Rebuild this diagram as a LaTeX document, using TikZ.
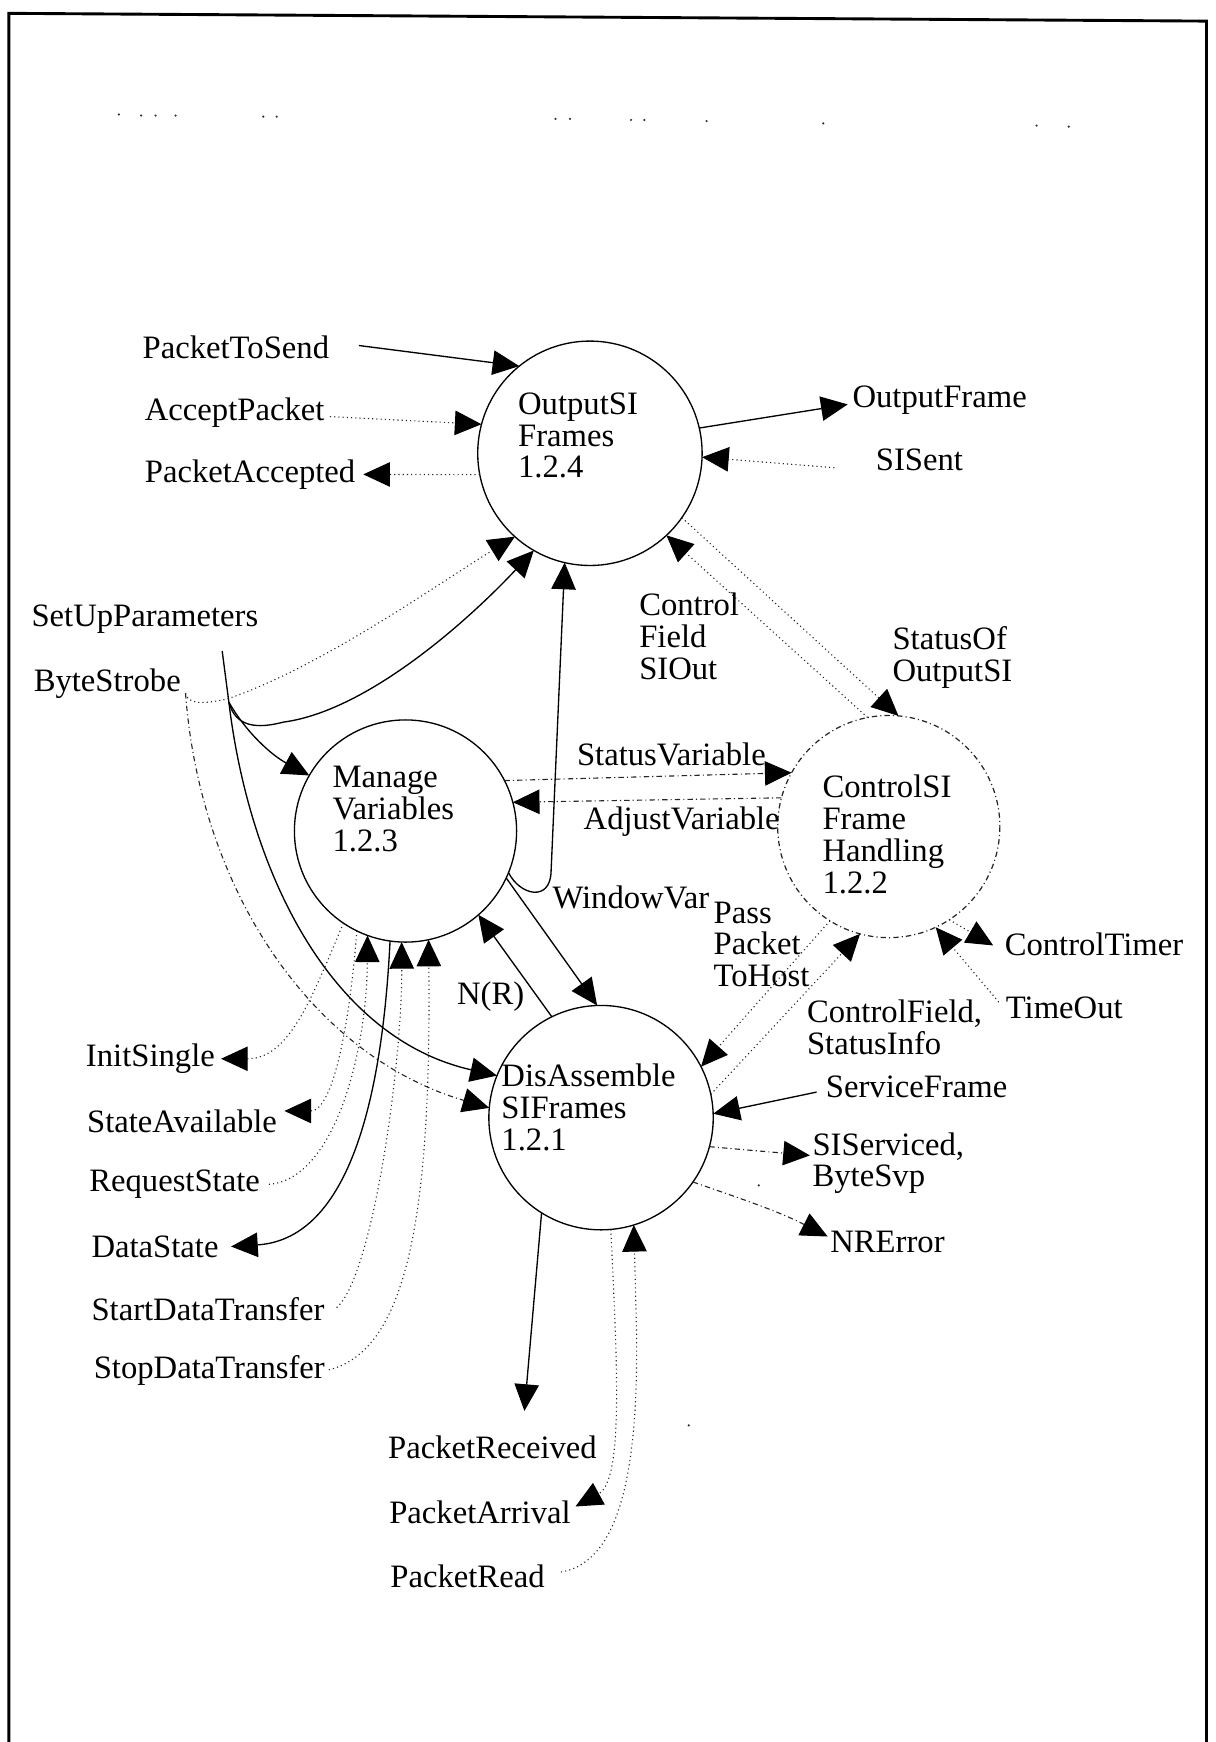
\documentclass[tikz,border=0pt]{standalone}
\usepackage{fontspec}
\setmainfont{Liberation Serif}
\usetikzlibrary{arrows.meta,calc}
\newcommand\lbfont{\fontsize{14.7pt}{14.3pt}\selectfont}
\begin{document}
\begin{tikzpicture}[x=0.5pt,y=-0.5pt,
  proc/.style={circle, draw, line width=0.6pt, inner sep=0pt, outer sep=0pt, minimum size=#1},
  lbl/.style={inner sep=0pt, anchor=west, align=left, font=\lbfont},
  tipx/.tip={Triangle[length=12pt,width=11pt,color=black]},
  sline/.style={line width=0.6pt},
  flow/.style={line width=0.6pt, -tipx},
  fdot/.style={line width=0.5pt, draw=black!85, dash pattern=on 0.5pt off 1.4pt},
  fdd/.style={line width=0.5pt, draw=black!85, dash pattern=on 2.4pt off 1.4pt on 0.5pt off 1.4pt},
  dflow/.style={fdot, -tipx},
  ddflow/.style={fdd, -tipx}]
\useasboundingbox (0,0) rectangle (1094,1568);

% page frame (open at the bottom)
\draw[line width=1.3pt] (8,1568) -- (8,12) -- (1086,19) -- (1086,1568);
% specks along the top
\foreach \p in {(107,103),(127,104),(140,104),(158,104),(237,105),(249,105),
  (500,107),(513,107),(568,108),(580,108),(636,109),(741,111),(933,113),(962,114),
  (620,1283),(683,1067)}
  \fill[black!80] \p circle[radius=1.1];

% processes
\node[proc=101pt] (A) at (531,408) {};
\node[proc=100pt] (B) at (365,748) {};
\node[proc=100pt, draw=none] (C) at (800,744) {};
\draw[fdd, line width=0.55pt] (C.center) circle[radius=100];
\node[proc=101pt] (D) at (541,1006) {};

\node[lbl] (At) at (466,392) {OutputSI\\Frames\\1.2.4};
\node[lbl] (Bt) at (299,728) {Manage\\Variables\\1.2.3};
\node[lbl] (Ct) at (740,751) {ControlSI\\Frame\\Handling\\1.2.2};
\node[lbl] (Dt) at (451,997) {DisAssemble\\SIFrames\\1.2.1};

% flow labels
\node[lbl] (pts) at (128,313) {PacketToSend};
\node[lbl] (acp) at (130,371) {AcceptPacket};
\node[lbl] (pac) at (130,427) {PacketAccepted};
\node[lbl] (ofr) at (767,360) {OutputFrame};
\node[lbl] (sis) at (788,414) {SISent};
\node[lbl] (cfs) at (575,573) {Control\\Field\\SIOut};
\node[lbl] (soo) at (803,592) {StatusOf\\OutputSI};
\node[lbl] (sup) at (28,557) {SetUpParameters};
\node[lbl] (bst) at (30,615) {ByteStrobe};
\node[lbl] (stv) at (519,679) {StatusVariable};
\node[lbl] (adv) at (525,740) {AdjustVariable};
\node[lbl] (wvr) at (497,808) {WindowVar};
\node[lbl] (ppt) at (642,850) {Pass\\Packet\\ToHost};
\node[lbl] (ctm) at (904,850) {ControlTimer};
\node[lbl] (tmo) at (905,907) {TimeOut};
\node[lbl] (cfi) at (726,925) {ControlField,\\StatusInfo};
\node[lbl] (nr) at (411,897) {N(R)};
\node[lbl] (svf) at (743,978) {ServiceFrame};
\node[lbl] (sisv) at (731,1047) {SIServiced,\\ByteSvp};
\node[lbl] (nre) at (747,1118) {NRError};
\node[lbl] (ins) at (77,953) {InitSingle};
\node[lbl] (sav) at (78,1009) {StateAvailable};
\node[lbl] (rqs) at (80,1066) {RequestState};
\node[lbl] (dst) at (82,1122) {DataState};
\node[lbl] (sdt) at (82,1178) {StartDataTransfer};
\node[lbl] (pdt) at (84,1234) {StopDataTransfer};
\node[lbl] (prc) at (349,1303) {PacketReceived};
\node[lbl] (par) at (350,1361) {PacketArrival};
\node[lbl] (prd) at (351,1419) {PacketRead};

% free ends of the flows
\coordinate (ptsE) at (323,311);
\coordinate (acpE) at (297,375);
\coordinate (pacE) at (327,427);
\coordinate (ofrE) at (763,364);
\coordinate (sisE) at (751,421);
\coordinate (su) at (200,586);
\coordinate (sj) at (206,632);
\coordinate (bs) at (167,624);
\coordinate (ctmE) at (894,851);
\coordinate (tmoE) at (899,902);
\coordinate (svfE) at (735,983);
\coordinate (sisvE) at (729,1040);
\coordinate (nreE) at (745,1113);
\coordinate (prcE) at (472,1270);
\coordinate (parE) at (518,1356);
\coordinate (prdE) at (505,1415);
\coordinate (insE) at (199,953);
\coordinate (savE) at (256,1000);
\coordinate (rqsE) at (242,1066);
\coordinate (dstE) at (208,1122);
\coordinate (sdtE) at (303,1177);
\coordinate (pdtE) at (296,1233);

% OutputSI Frames
\draw[flow] (ptsE) -- (A.129);
\draw[dflow] (acpE) -- (A.165);
\draw[dflow] (A.191) -- (pacE);
\draw[flow] (A.13) -- (ofrE);
\draw[dflow] (sisE) -- (A.-2);
\draw[dflow] (A.-35) -- (C.85);
\draw[dflow] (C.101) -- (A.-47);

% SetUpParameters and ByteStrobe
\draw[sline] (su) -- (sj);
\draw[flow] (sj) .. controls (212,655) and (232,656) .. (255,650)
  .. controls (330,640) and (420,560) .. (A.240);
\draw[flow] (sj) .. controls (222,660) and (245,680) .. (B.150);
\draw[flow] (sj) .. controls (225,790) and (300,935) .. (D.158);
\draw[dflow] (bs) .. controls (169,634) and (182,634) .. (205,629)
  .. controls (290,600) and (395,525) .. (A.228);
\draw[ddflow] (bs) .. controls (180,800) and (280,950) .. (D.175);

% Manage Variables
\draw[flow] (D.116) -- (B.-49);
\draw[flow] (B.-25) -- (D.92);
\draw[flow] (B.-22) .. controls (468,806) and (495,812) .. (496,785) -- (A.257);
\draw[ddflow] (B.27) -- (C.151);
\draw[ddflow] (C.165) -- (B.15);
\draw[dflow] (B.-124) .. controls (280,900) and (260,953) .. (insE);
\draw[dflow] (B.-116) .. controls (315,920) and (300,1000) .. (savE);
\draw[dflow] (rqsE) .. controls (300,1062) and (330,950) .. (B.-110);
\draw[flow] (B.-98) .. controls (345,970) and (320,1115) .. (dstE);
\draw[dflow] (sdtE) .. controls (335,1150) and (362,960) .. (B.-92);
\draw[dflow] (pdtE) .. controls (370,1215) and (388,1080) .. (B.-78);

% ControlSI Frame Handling
\draw[dflow] (C.-122) -- (D.27);
\draw[dflow] (D.12) -- (C.-105);
\draw[dflow] (C.-57) -- (ctmE);
\draw[dflow] (tmoE) -- (C.-65);

% DisAssemble SIFrames
\draw[flow] (svfE) -- (D.2);
\draw[ddflow] (D.-15) -- (sisvE);
\draw[ddflow] (D.-35) .. controls (670,1080) and (700,1090) .. (nreE);
\draw[flow] (D.-122) -- (prcE);
\draw[dflow] (D.-85) .. controls (555,1220) and (562,1332) .. (parE);
\draw[dflow] (prdE) .. controls (565,1405) and (574,1300) .. (573,1200) -- (D.-73);
\end{tikzpicture}
\end{document}
